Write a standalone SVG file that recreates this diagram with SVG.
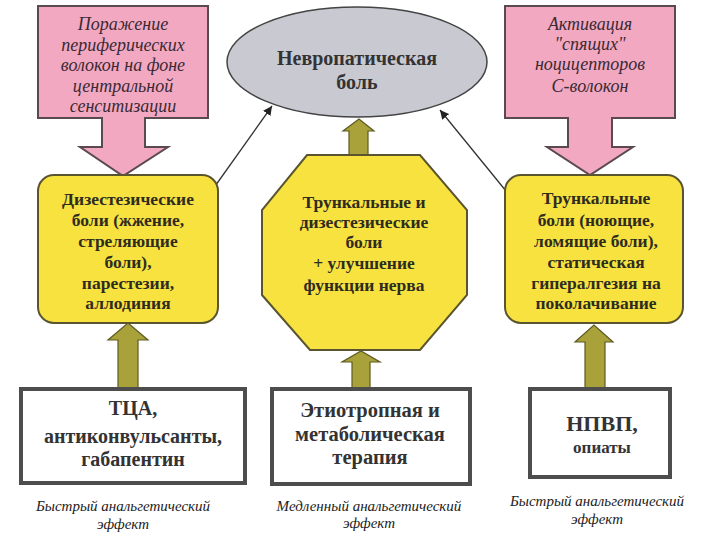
<svg xmlns="http://www.w3.org/2000/svg" width="720" height="540" viewBox="0 0 720 540">
<defs>
<style>
.pink{fill:#F3A8C2;stroke:#5a4a50;stroke-width:2}
.yel{fill:#F8E23F;stroke:#5a5530;stroke-width:2}
.olive{fill:#A9A23A;stroke:#5d5a20;stroke-width:1.2}
.wbox{fill:#ffffff;stroke:#4d4d4d;stroke-width:4}
text{font-family:'Liberation Serif','Times New Roman','DejaVu Serif',serif}
.it{font-style:italic;fill:#3a2a33;text-anchor:middle;font-size:18px}
.bd{font-weight:bold;fill:#2e2c20;text-anchor:middle;font-size:17.5px}
.bk{font-weight:bold;fill:#333333;text-anchor:middle}
.cap{font-style:italic;fill:#222;text-anchor:middle;font-size:15px}
.thin{stroke:#333;stroke-width:1.3;fill:none;marker-end:url(#ah)}
</style>
<marker id="ah" viewBox="0 0 10 10" refX="10" refY="5" markerWidth="9" markerHeight="9" markerUnits="userSpaceOnUse" orient="auto">
<path d="M0,0 L10,5 L0,10 z" fill="#222"/>
</marker>
</defs>
<rect width="720" height="540" fill="#ffffff"/>

<g id="connectors">
<line class="thin" x1="213" y1="189" x2="272" y2="106"/>
<line class="thin" x1="506" y1="191" x2="440" y2="110"/>
<path class="olive" d="M349,156 V131 H343 L359,119 L374,131 H368 V156 Z"/>
<path class="olive" d="M118,388 V340 H108 L128,323 L148,340 H138 V388 Z"/>
<path class="olive" d="M352,388 V362 H342 L361,351 L380,362 H370 V388 Z"/>
<path class="olive" d="M585,388 V342 H575 L594,325 L613,342 H605 V388 Z"/>
</g>

<g id="pain">
<ellipse cx="357" cy="62" rx="130" ry="55" fill="#C9C9D1" stroke="#444" stroke-width="1.5"/>
<text class="bk" font-size="20" x="357" y="65">Невропатическая</text>
<text class="bk" font-size="20" x="357" y="89">боль</text>
</g>

<g id="pink-left">
<path class="pink" d="M38,6 H208 V118 H145 V147 H168 L123,176 L80,147 H102 V118 H38 Z"/>
<text class="it" x="123" y="30">Поражение</text>
<text class="it" x="123" y="51">периферических</text>
<text class="it" x="123" y="71">волокон на фоне</text>
<text class="it" x="123" y="92">центральной</text>
<text class="it" x="123" y="112">сенситизации</text>
</g>

<g id="pink-right">
<path class="pink" d="M505,6 H675 V118 H612 V147 H633 L590,175 L547,147 H568 V118 H505 Z"/>
<text class="it" x="590" y="30">Активация</text>
<text class="it" x="590" y="50">"спящих"</text>
<text class="it" x="590" y="70">ноцицепторов</text>
<text class="it" x="590" y="92">С-волокон</text>
</g>

<g id="yellow-left">
<rect class="yel" x="38" y="175" width="180" height="148" rx="16"/>
<text class="bd" x="128" y="205">Дизестезические</text>
<text class="bd" x="128" y="226">боли (жжение,</text>
<text class="bd" x="128" y="247">стреляющие</text>
<text class="bd" x="128" y="268">боли),</text>
<text class="bd" x="128" y="289">парестезии,</text>
<text class="bd" x="128" y="309">аллодиния</text>
</g>

<g id="octagon">
<polygon class="yel" stroke-width="1.5" points="307,155 420,155 467,210 467,295 420,350 310,350 262,295 262,210"/>
<text class="bd" x="364" y="208">Трункальные и</text>
<text class="bd" x="364" y="228">дизестезические</text>
<text class="bd" x="364" y="248">боли</text>
<text class="bd" x="364" y="269">+ улучшение</text>
<text class="bd" x="364" y="291">функции нерва</text>
</g>

<g id="yellow-right">
<rect class="yel" x="505" y="175" width="178" height="148" rx="16"/>
<text class="bd" x="596" y="204">Трункальные</text>
<text class="bd" x="596" y="226">боли (ноющие,</text>
<text class="bd" x="596" y="247">ломящие боли),</text>
<text class="bd" x="596" y="268">статическая</text>
<text class="bd" x="596" y="289">гипералгезия на</text>
<text class="bd" x="596" y="309">поколачивание</text>
</g>

<g id="drug-left">
<rect class="wbox" x="21" y="389" width="224" height="94"/>
<text class="bk" font-size="20" x="133" y="415">ТЦА,</text>
<text class="bk" font-size="20" x="133" y="443">антиконвульсанты,</text>
<text class="bk" font-size="20" x="133" y="466">габапентин</text>
</g>

<g id="drug-middle">
<rect class="wbox" x="272" y="389" width="198" height="95"/>
<text class="bk" font-size="20.5" x="370" y="417">Этиотропная и</text>
<text class="bk" font-size="20.5" x="370" y="441">метаболическая</text>
<text class="bk" font-size="20.5" x="370" y="464">терапия</text>
</g>

<g id="drug-right">
<rect class="wbox" x="530" y="389" width="140" height="88"/>
<text class="bk" font-size="22" x="602" y="431">НПВП,</text>
<text class="bk" font-size="17" x="602" y="453">опиаты</text>
</g>

<g id="captions">
<text class="cap" x="123" y="511">Быстрый анальгетический</text>
<text class="cap" x="123" y="529">эффект</text>
<text class="cap" x="369" y="511">Медленный анальгетический</text>
<text class="cap" x="369" y="528">эффект</text>
<text class="cap" x="597" y="506">Быстрый анальгетический</text>
<text class="cap" x="597" y="524">эффект</text>
</g>
</svg>
